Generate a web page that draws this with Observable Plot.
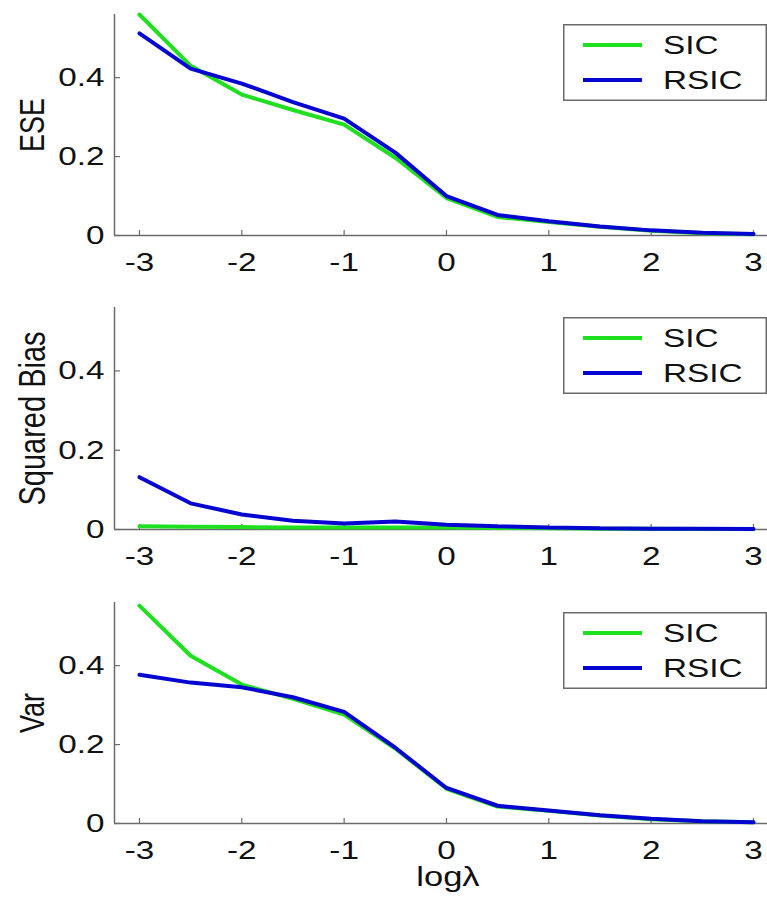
<!DOCTYPE html>
<html>
<head>
<meta charset="utf-8">
<script src="https://cdn.jsdelivr.net/npm/d3@7"></script>
<script src="https://cdn.jsdelivr.net/npm/@observablehq/plot@0.6"></script>
<style>
  html, body { margin: 0; padding: 0; background: #fff; }
  #wrap { position: relative; width: 767px; height: 898px; overflow: hidden; }
  .panel { position: relative; width: 767px; }
  .panel svg { display: block; }
  .legend { position: absolute; }
</style>
</head>
<body>
<div id="wrap"></div>
<script>
// ---- data ----
const logLambda = [-3, -2.5, -2, -1.5, -1, -0.5, 0, 0.5, 1, 1.5, 2, 2.5, 3];
const eseSIC   = [0.560, 0.430, 0.357, 0.318, 0.281, 0.197, 0.095, 0.047, 0.034, 0.022, 0.012, 0.006, 0.003];
const eseRSIC  = [0.512, 0.423, 0.385, 0.338, 0.296, 0.210, 0.100, 0.052, 0.036, 0.023, 0.013, 0.007, 0.004];
const biasSIC  = [0.008, 0.007, 0.006, 0.005, 0.005, 0.005, 0.005, 0.004, 0.003, 0.002, 0.002, 0.001, 0.001];
const biasRSIC = [0.132, 0.066, 0.038, 0.022, 0.015, 0.020, 0.012, 0.008, 0.005, 0.003, 0.002, 0.002, 0.001];
const varSIC   = [0.552, 0.425, 0.352, 0.316, 0.276, 0.190, 0.088, 0.043, 0.032, 0.020, 0.011, 0.006, 0.003];
const varRSIC  = [0.377, 0.357, 0.345, 0.320, 0.283, 0.192, 0.090, 0.045, 0.033, 0.021, 0.012, 0.006, 0.003];
const xTicks = [-3, -2, -1, 0, 1, 2, 3];
const yTicks = [0, 0.2, 0.4];
const seriesNames = ["SIC", "RSIC"];
const xLabel = "logλ";

const GREEN = "#1fe01f";
const BLUE = "#0505d2";
const AXIS = "#6a6a6a";
const FONT = "'Liberation Sans', Arial, Helvetica, sans-serif";
const STRETCH = 1.28;
const W = 767, ML = 114, MR = 0;
const xDomain = [-3.244, 3.137];
const yDomain = [0, 0.56];

const panels = [
  {label: "ESE", sic: eseSIC, rsic: eseRSIC, height: 290, mt: 14, mb: 55, xlabel: false, fs: 27},
  {label: "Squared Bias", sic: biasSIC, rsic: biasRSIC, height: 294, mt: 17, mb: 55, xlabel: false, fs: 29},
  {label: "Var", sic: varSIC, rsic: varRSIC, height: 314, mt: 18, mb: 75, xlabel: true, fs: 27}
];

function stretchTexts(svg, s) {
  const texts = Array.from(svg.querySelectorAll("text"));
  texts.forEach(t => {
    const r = t.getBoundingClientRect();
    const anchor = getComputedStyle(t).textAnchor;
    const rotated = (t.getAttribute("transform") || "").includes("rotate");
    const sx = rotated ? (r.left + r.right) / 2 : anchor === "end" ? r.right : anchor === "start" ? r.left : (r.left + r.right) / 2;
    const parent = t.parentNode;
    const m = parent.getScreenCTM().inverse();
    const p = svg.createSVGPoint();
    p.x = sx; p.y = r.top;
    const lp = p.matrixTransform(m);
    const g = document.createElementNS("http://www.w3.org/2000/svg", "g");
    g.setAttribute("transform", `translate(${lp.x},0) scale(${s},1) translate(${-lp.x},0)`);
    parent.insertBefore(g, t);
    g.appendChild(t);
  });
}

function makeLegend(top) {
  const ns = "http://www.w3.org/2000/svg";
  const lw = 204, lh = 77;
  const svg = document.createElementNS(ns, "svg");
  svg.setAttribute("width", lw);
  svg.setAttribute("height", lh);
  svg.setAttribute("class", "legend");
  svg.style.left = (W - lw) + "px";
  svg.style.top = top + "px";
  const rect = document.createElementNS(ns, "rect");
  rect.setAttribute("x", 0.75); rect.setAttribute("y", 0.75);
  rect.setAttribute("width", lw - 1.5); rect.setAttribute("height", lh - 1.5);
  rect.setAttribute("fill", "#fff"); rect.setAttribute("stroke", AXIS); rect.setAttribute("stroke-width", 1.5);
  svg.appendChild(rect);
  const colors = [GREEN, BLUE];
  const rows = [21, 56];
  seriesNames.forEach((name, i) => {
    const ln = document.createElementNS(ns, "line");
    ln.setAttribute("x1", 20); ln.setAttribute("x2", 79);
    ln.setAttribute("y1", rows[i]); ln.setAttribute("y2", rows[i]);
    ln.setAttribute("stroke", colors[i]); ln.setAttribute("stroke-width", 4);
    svg.appendChild(ln);
    const tx = document.createElementNS(ns, "text");
    tx.setAttribute("x", 100); tx.setAttribute("y", rows[i]);
    tx.setAttribute("dy", "0.36em");
    tx.setAttribute("font-family", FONT);
    tx.setAttribute("font-size", 26);
    tx.setAttribute("fill", "#111");
    tx.setAttribute("transform", `translate(100,0) scale(${STRETCH},1) translate(-100,0)`);
    tx.textContent = name;
    svg.appendChild(tx);
  });
  return svg;
}

const wrap = document.getElementById("wrap");
panels.forEach(pn => {
  const rows = logLambda.map((x, i) => ({x, SIC: pn.sic[i], RSIC: pn.rsic[i]}));
  const plotH = pn.height - pn.mt - pn.mb;
  const plotW = W - ML - MR;
  const marks = [
    Plot.ruleY([yDomain[0]], {stroke: AXIS, strokeWidth: 1.5}),
    Plot.ruleX([xDomain[0]], {stroke: AXIS, strokeWidth: 1.5}),
    Plot.tickX(xTicks, {x: d => d, stroke: AXIS, strokeWidth: 1.2, insetTop: plotH - 5}),
    Plot.tickY(yTicks, {y: d => d, stroke: AXIS, strokeWidth: 1.2, insetRight: plotW - 6}),
    Plot.axisX({ticks: xTicks, tickSize: 0, tickPadding: 17, tickFormat: d => String(d), label: null, fill: "#111"}),
    Plot.axisY({ticks: yTicks, tickSize: 0, tickPadding: 10, tickFormat: d => String(d), label: null, fill: "#111"}),
    Plot.line(rows, {x: "x", y: "SIC", stroke: GREEN, strokeWidth: 4, strokeLinejoin: "miter"}),
    Plot.line(rows, {x: "x", y: "RSIC", stroke: BLUE, strokeWidth: 4, strokeLinejoin: "miter"}),
    Plot.text([pn.label], {text: d => d, frameAnchor: "left", textAnchor: "middle", lineAnchor: "middle", dx: -82, rotate: -90, fontSize: pn.fs, fill: "#111"})
  ];
  if (pn.xlabel) {
    marks.push(Plot.text([xLabel], {text: d => d, frameAnchor: "bottom", textAnchor: "middle", lineAnchor: "middle", dy: 54, dx: 7, fontSize: 27, fill: "#111"}));
  }
  const chart = Plot.plot({
    width: W,
    height: pn.height,
    marginLeft: ML,
    marginRight: MR,
    marginTop: pn.mt,
    marginBottom: pn.mb,
    x: {domain: xDomain},
    y: {domain: yDomain},
    style: {fontFamily: FONT, fontSize: "26px", color: "#111", background: "#fff", overflow: "visible"},
    marks
  });
  const div = document.createElement("div");
  div.className = "panel";
  div.appendChild(chart);
  div.appendChild(makeLegend(pn.mt + 10));
  wrap.appendChild(div);
  stretchTexts(chart, STRETCH);
});
</script>
</body>
</html>
